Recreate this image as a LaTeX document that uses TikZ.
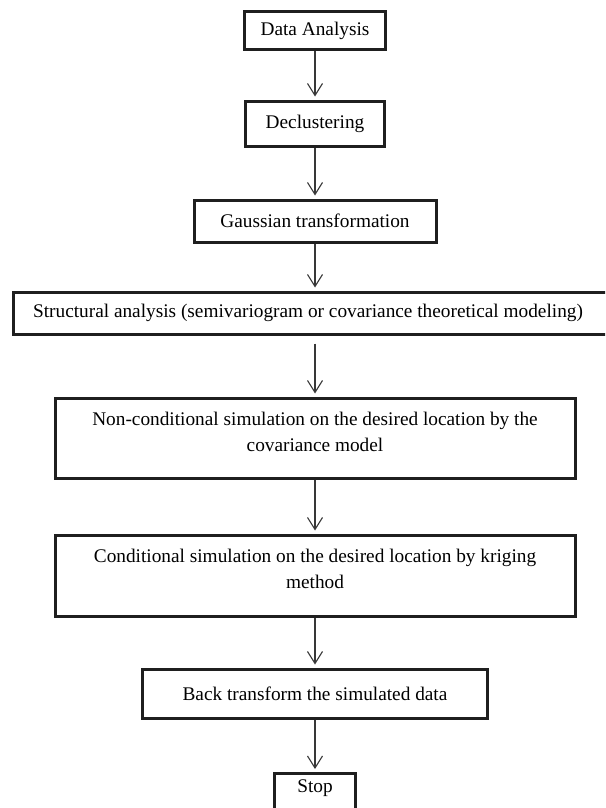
\documentclass[tikz,border=0pt]{standalone}
\usepackage{fontspec}
\setmainfont{Liberation Serif}
\usetikzlibrary{arrows.meta}
\begin{document}
\begin{tikzpicture}[x=1pt,y=-1pt,
  box/.style={draw=black!88, line width=3pt, inner sep=0pt, font=\fontsize{19.3}{26}\selectfont},
  txt/.style={inner sep=0pt, align=center, font=\fontsize{19.3}{26}\selectfont},
  flow/.style={draw=black!78, line width=1.1pt, -{Straight Barb[length=12pt,width=15pt,line width=1.1pt]}, shorten >=3pt}]
\useasboundingbox (0,0) rectangle (605,808);
\clip (0,0) rectangle (605,808);
\node[box, minimum width=141, minimum height=38] (b1) at (315,31) {Data Analysis};
\node[box, minimum width=139, minimum height=45] (b2) at (315,123.5) {Declustering};
\node[box, minimum width=242, minimum height=42] (b3) at (315,221) {Gaussian transformation};
\node[box, minimum width=597, minimum height=42] (b4) at (311.5,313) {};
\node[txt] (t4) at (308,313) {Structural analysis (semivariogram or covariance theoretical modeling)};
\node[box, minimum width=520, minimum height=80] (b5) at (315,438) {};
\node[txt] (t5) at (315,432) {Non-conditional simulation on the desired location by the\\covariance model};
\node[box, minimum width=520, minimum height=81] (b6) at (315,575.5) {};
\node[txt] (t6) at (315,568.5) {Conditional simulation on the desired location by kriging\\method};
\node[box, minimum width=345, minimum height=49] (b7) at (315,693.5) {Back transform the simulated data};
\node[box, minimum width=81, minimum height=46, anchor=north] (b8) at (315,772) {};
\node[txt] (t8) at (315,788) {Stop};
\draw[flow] (b1.south) -- (b2.north);
\draw[flow] (b2.south) -- (b3.north);
\draw[flow] (b3.south) -- (b3.south |- b4.north);
\draw[flow, shorten <=8pt] (b4.south -| b5.north) -- (b5.north);
\draw[flow] (b5.south) -- (b6.north);
\draw[flow] (b6.south) -- (b7.north);
\draw[flow] (b7.south) -- (b8.north);
\end{tikzpicture}
\end{document}
